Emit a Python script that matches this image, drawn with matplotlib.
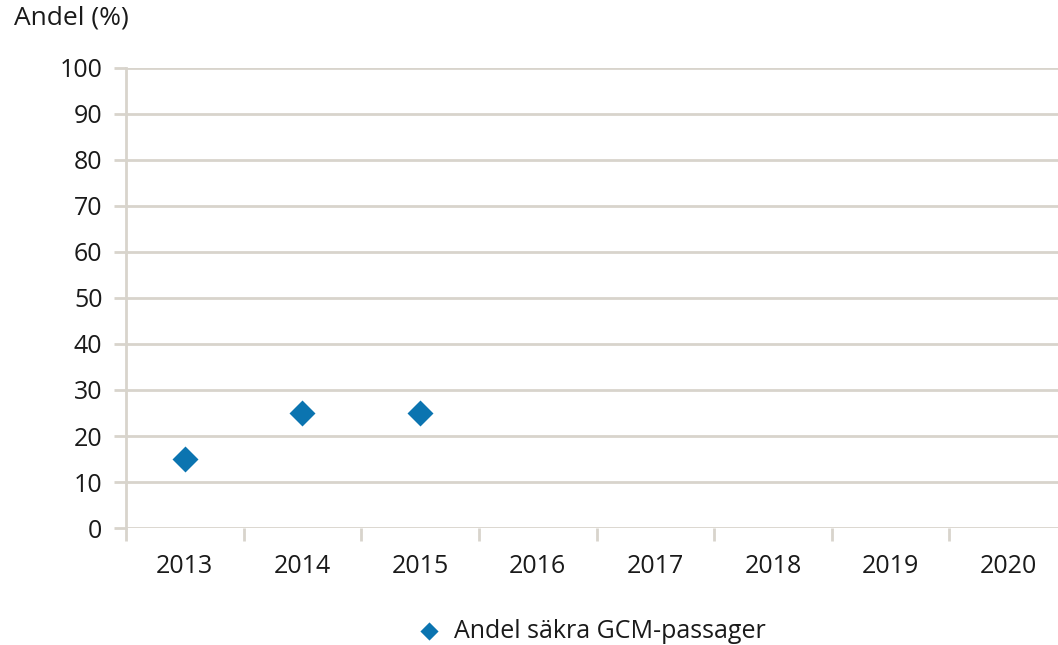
import numpy as np
import matplotlib.pyplot as plt

years = ["2013", "2014", "2015", "2016", "2017", "2018", "2019", "2020"]
share_safe = [15, 25, 25, None, None, None, None, None]
y_ticks = [0, 10, 20, 30, 40, 50, 60, 70, 80, 90, 100]

grid_color = "#d8d4cc"
marker_color = "#0b74b0"

plt.rcParams['font.family'] = ['Open Sans', 'DejaVu Sans']

fig = plt.figure(figsize=(10.58, 6.45), dpi=100)
ax = fig.add_axes([126 / 1058, 117 / 645, 941 / 1058, 460 / 645])

x = np.arange(len(years))
vals = np.array([np.nan if v is None else v for v in share_safe], dtype=float)
ax.scatter(x, vals, marker="D", s=175, color=marker_color, zorder=3,
           label="Andel säkra GCM-passager", linewidths=0)

ax.set_xlim(-0.5, len(years) - 0.5)
ax.set_ylim(0, 100)
ax.set_yticks(y_ticks)
ax.set_yticklabels([str(t) for t in y_ticks])
ax.yaxis.grid(True, color=grid_color, linewidth=2)
ax.set_axisbelow(True)

# category labels centred, tick marks on boundaries
ax.set_xticks(x)
ax.set_xticklabels(years)
ax.set_xticks(np.arange(-0.5, len(years), 1), minor=True)
ax.tick_params(axis="x", which="major", length=0, pad=19, labelsize=18, colors="#1a1a1a")
ax.tick_params(axis="x", which="minor", length=9, width=2, color=grid_color)
ax.tick_params(axis="y", length=9, width=2, color=grid_color, pad=8, labelsize=18, labelcolor="#1a1a1a")

for side in ["top", "right", "bottom"]:
    ax.spines[side].set_visible(False)
ax.spines["left"].set_color(grid_color)
ax.spines["left"].set_linewidth(2)

fig.text(14 / 1058, 1 - 18 / 645, "Andel (%)", fontsize=19, color="#1a1a1a", va="center", ha="left")

leg = fig.legend(loc="center", bbox_to_anchor=(585 / 1058, 1 - 631 / 645), frameon=False,
                 fontsize=18, handletextpad=0.0, markerscale=0.7)
for t in leg.get_texts():
    t.set_color("#1a1a1a")

fig.savefig("out.png", dpi=100)
